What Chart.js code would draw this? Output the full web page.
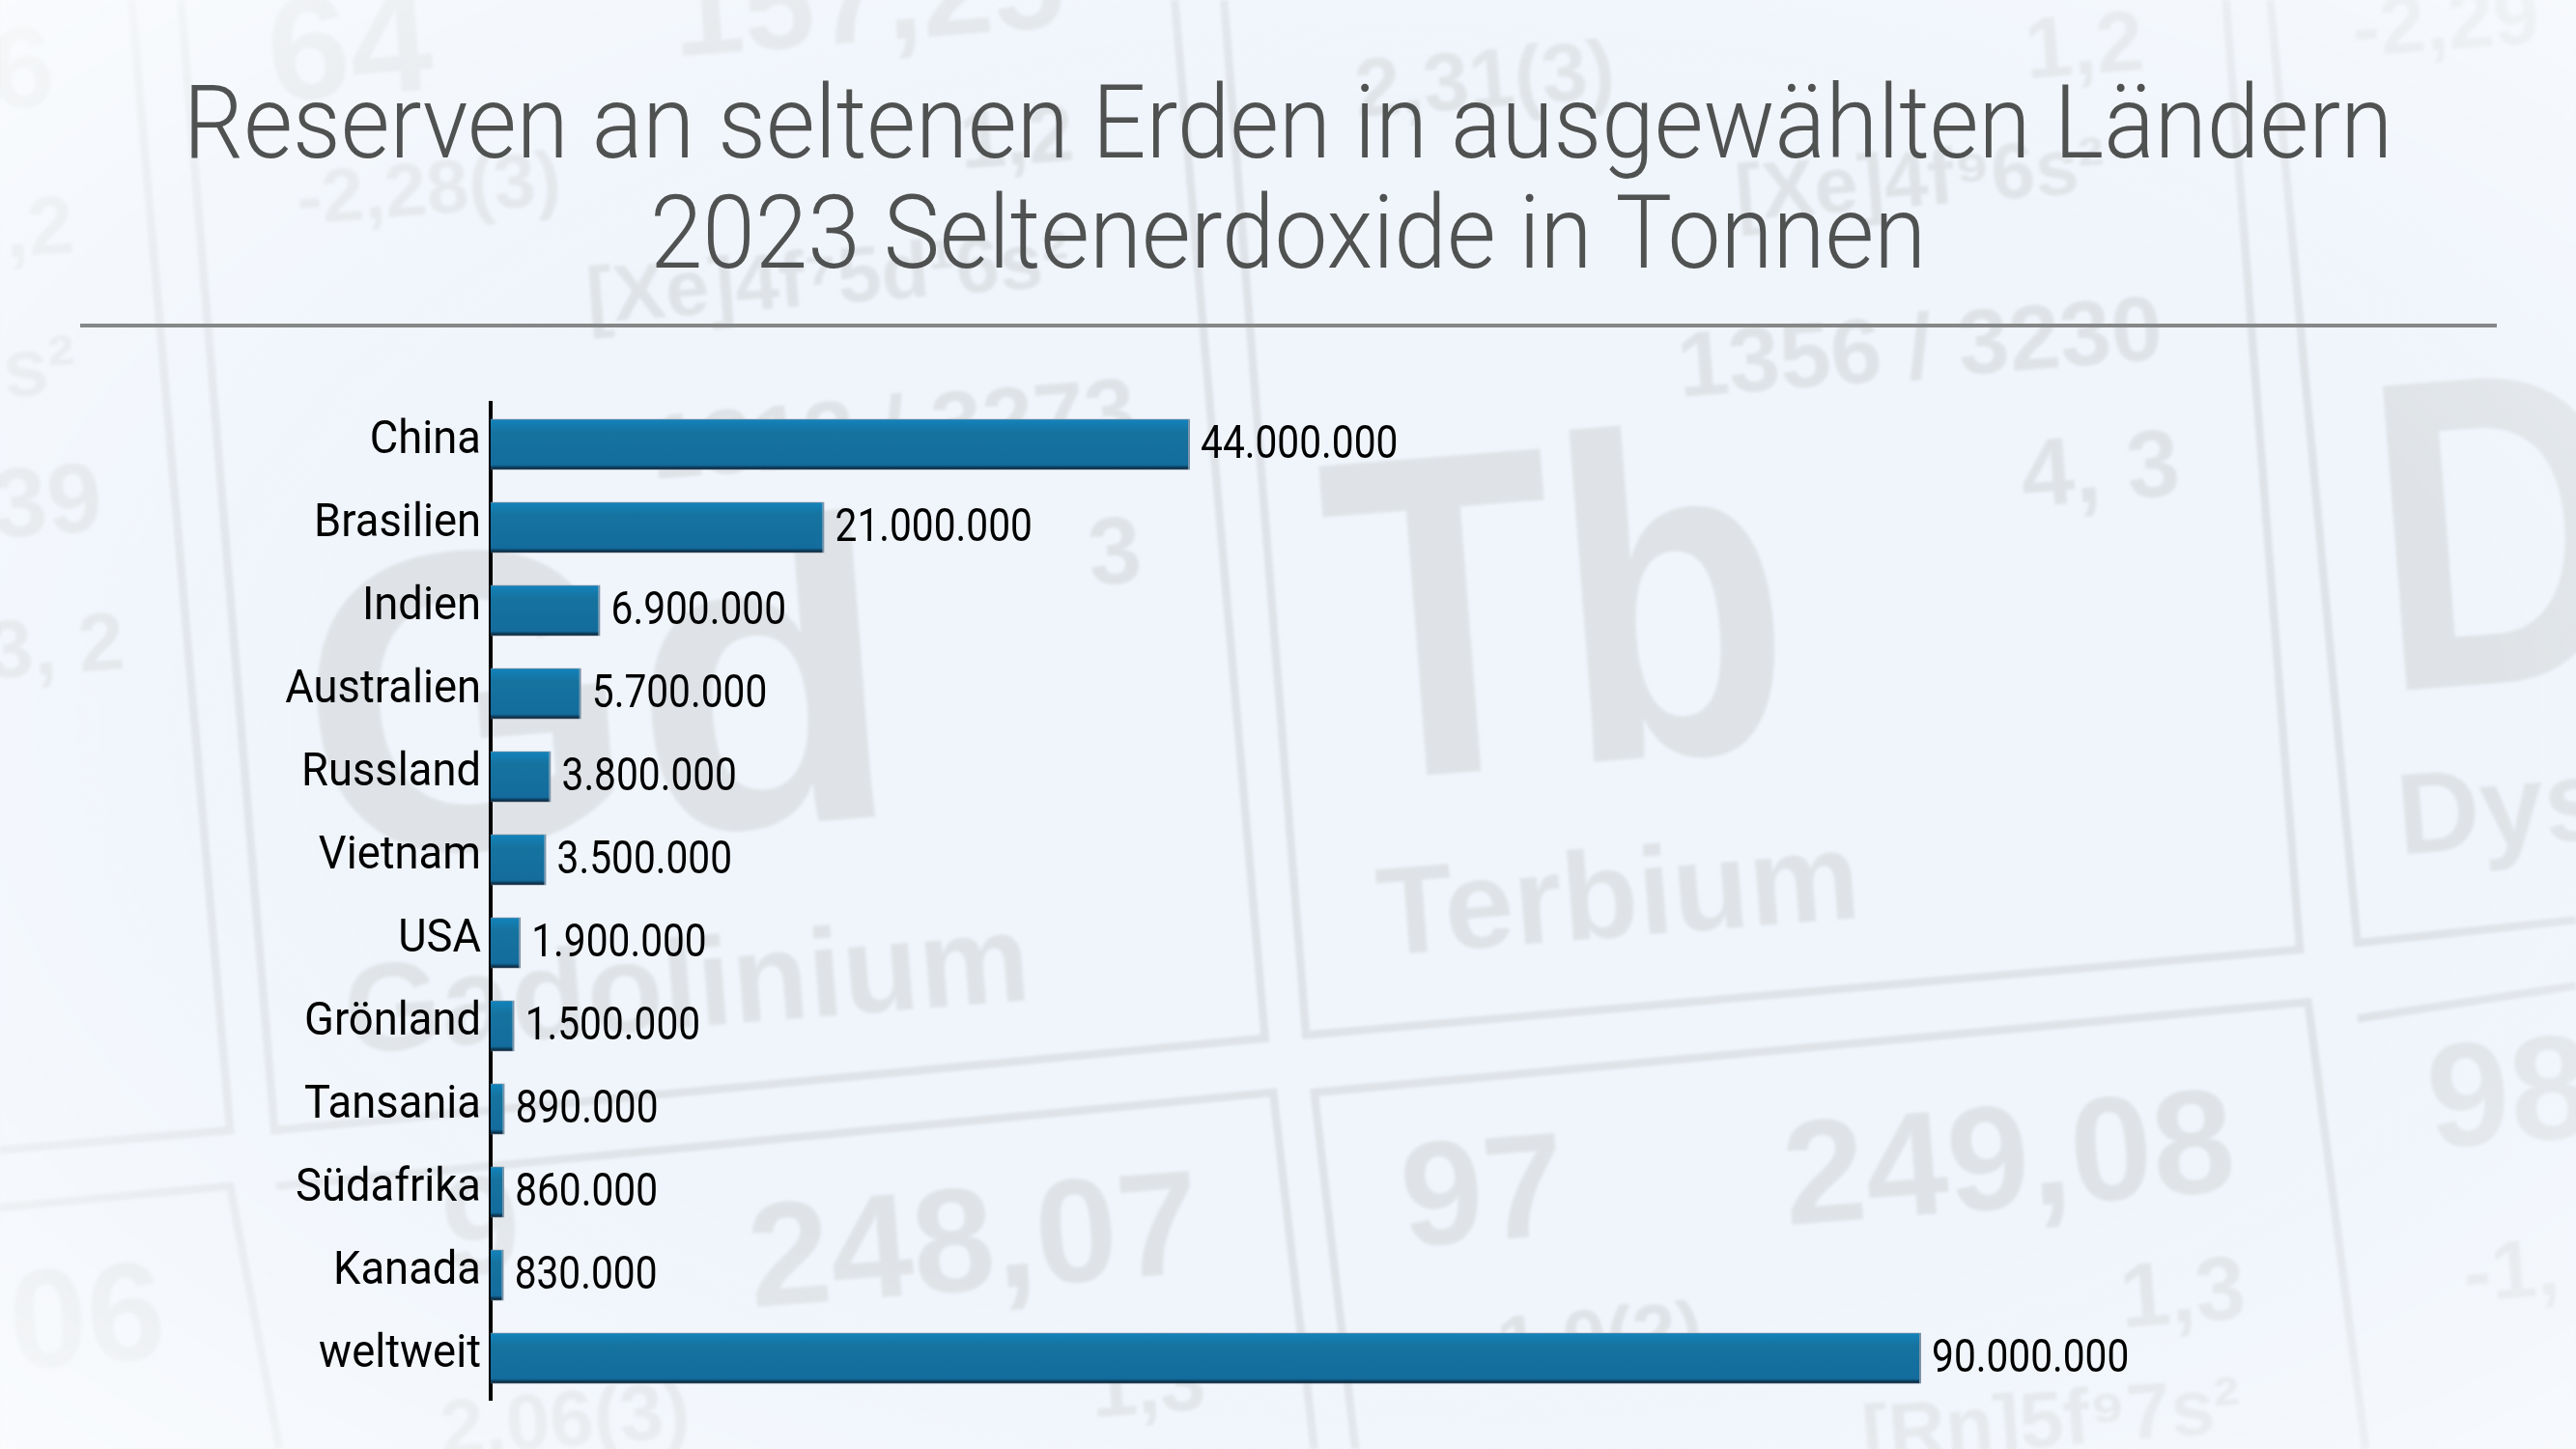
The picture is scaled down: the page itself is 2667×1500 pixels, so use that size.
<!DOCTYPE html>
<html>
<head>
<meta charset="utf-8">
<title>Reserven an seltenen Erden</title>
<script src="https://cdn.jsdelivr.net/npm/chart.js@4"></script>
<style>
html, body { margin: 0; padding: 0; background: #f0f5fc; }
#wrap { position: relative; width: 2667px; height: 1500px; overflow: hidden; }
#bg, #g { position: absolute; left: 0; top: 0; }
#bg text { font-family: "Liberation Sans", sans-serif; font-weight: bold; fill: #dfe3e7; }
#g { width: 2667px !important; height: 1500px !important; }
</style>
</head>
<body>
<div id="wrap">
<svg id="bg" width="2667" height="1500" viewBox="0 0 1568 882">
    <defs>
        <filter id="soft"><feGaussianBlur stdDeviation="1"></feGaussianBlur></filter>
        <radialGradient id="fade" cx="0.55" cy="0.5" r="0.75">
            <stop offset="0.55" stop-color="#f6f9fc" stop-opacity="0"></stop>
            <stop offset="1" stop-color="#fbfcfd" stop-opacity="0.85"></stop>
        </radialGradient>
    </defs>
    <g filter="url(#soft)" id="cells" stroke="#dfe3e8" stroke-width="5" fill="none">
        <path d="M745 0L795 630L1400 578L1355 0"></path>
        <path d="M1382 0L1435 574L1568 560"></path>
        <path d="M110 0L167 688L770 632L715 0"></path>
        <path d="M80 0L140 688L0 700"></path>
        <path d="M0 735L140 722L170 882"></path>
        <path d="M168 722L775 665L800 882"></path>
        <path d="M825 882L800 665L1405 610L1440 882"></path>
        <path d="M1435 620L1568 600"></path>
    </g>
    <g filter="url(#soft)" id="words"></g>
    <rect width="1568" height="882" fill="url(#fade)"></rect>
</svg>
<canvas id="g" width="2667" height="1500"></canvas>
</div>
<script>
// data
const _labels = ['China', 'Brasilien', 'Indien', 'Australien', 'Russland', 'Vietnam', 'USA', 'Grönland', 'Tansania', 'Südafrika', 'Kanada', 'weltweit'];
const _data = [44000000, 21000000, 6900000, 5700000, 3800000, 3500000, 1900000, 1500000, 890000, 860000, 830000, 90000000];
const _title = ['Reserven an seltenen Erden in ausgewählten Ländern', '2023 Seltenerdoxide in Tonnen'];

const _font = 'Roboto, sans-serif';

// background, faint periodic table
const _words = [
    ['64', 215, 58, 90], ['157,25', 530, 25, 78], ['1,2', 1270, 45, 52], ['2,31(3)', 905, 65, 50],
    ['-2,29', 1490, 30, 50], ['6', 15, 65, 70], [',2', 25, 155, 50], ['-2,28(3)', 262, 130, 46],
    ['1,2', 620, 100, 50], ['[Xe]4f⁷5d¹6s²', 505, 185, 48], ['[Xe]4f⁹6s²', 1170, 125, 48], ['s²', 25, 240, 50],
    ['1356 / 3230', 1170, 230, 56], ['1313 / 3273', 545, 280, 56], ['39', 30, 325, 60], ['4, 3', 1280, 305, 58],
    ['3', 680, 355, 58], ['3, 2', 35, 410, 50], ['Gd', 370, 510, 260], ['Tb', 955, 465, 280, 0.82],
    ['D', 1530, 415, 270, 0.82], ['Dys', 1525, 515, 70], ['Terbium', 987, 570, 76], ['Gadolinium', 420, 625, 76],
    ['97', 905, 755, 90], ['249,08', 1225, 735, 90], ['248,07', 595, 785, 90], ['98', 1530, 695, 90],
    ['06', 55, 830, 85], ['9', 295, 775, 85], ['1,3', 1330, 805, 55], ['-1,', 1530, 790, 50],
    ['1,3', 700, 860, 50], ['2,06(3)', 345, 880, 48], ['1,0(2)', 975, 830, 48], ['[Rn]5f⁹7s²', 1250, 880, 48]
];
const _g = document.getElementById('words');
_words.forEach(function (w) {
    const t = document.createElementNS('http://www.w3.org/2000/svg', 'text');
    t.textContent = w[0];
    t.setAttribute('text-anchor', 'middle');
    t.setAttribute('font-size', w[3]);
    t.setAttribute('transform', 'translate(' + w[1] + ' ' + w[2] + ') rotate(-4.5) scale(' + (w[4] || 1) + ' 1)');
    _g.appendChild(t);
});

// no condensed font here, so squeeze the text instead
const _c = document.getElementById('g').getContext('2d');
const _fill = _c.fillText;
let _squeeze = 0.925;
_c.fillText = function (t, x, y) {
    const k = this.font.indexOf('105px') >= 0 ? 0.935 : _squeeze;
    this.save();
    this.translate(x, y);
    this.scale(k, 1);
    _fill.call(this, t, 0, 0);
    this.restore();
};

function _bar_color (ctx) {
    const c = ctx.chart;
    if (!c.chartArea) return '#17719f';
    const y = c.scales.y.getPixelForValue(ctx.dataIndex);
    const h = c.scales.y.getPixelForValue(1) - c.scales.y.getPixelForValue(0);
    const half = h * 0.616 / 2;
    const g = c.ctx.createLinearGradient(0, y - half, 0, y + half);
    g.addColorStop(0, '#8b93a0');
    g.addColorStop(0.03, '#1282ba');
    g.addColorStop(0.25, '#16739f');
    g.addColorStop(0.9, '#136c9d');
    g.addColorStop(0.97, '#0a2a42');
    g.addColorStop(1, '#5d6a76');
    return g;
}

// value labels and the rule under the title
const _extras = {
    id: 'extras',
    afterDatasetsDraw (c) {
        const ctx = c.ctx;
        ctx.save();
        _squeeze = 0.83;
        ctx.fillStyle = '#000';
        ctx.font = '49px ' + _font;
        ctx.textBaseline = 'middle';
        c.getDatasetMeta(0).data.forEach(function (bar, i) {
            ctx.fillText(_data[i].toLocaleString('de-DE'), bar.x + 11, bar.y + 2);
        });
        _squeeze = 0.925;
        ctx.fillStyle = '#868888';
        ctx.fillRect(83, 335, 2502, 4);
        ctx.restore();
    }
};

new Chart(_c, {
    type: 'bar',
    data: {
        labels: _labels,
        datasets: [{
            data: _data,
            backgroundColor: _bar_color,
            borderColor: '#7c93a6',
            borderWidth: { right: 2 },
            borderSkipped: false,
            barPercentage: 0.616,
            categoryPercentage: 1
        }]
    },
    options: {
        indexAxis: 'y',
        responsive: false,
        animation: false,
        devicePixelRatio: 1,
        layout: { padding: { top: 0, bottom: 51, right: 0, left: 0 } },
        plugins: {
            legend: { display: false },
            tooltip: { enabled: false },
            title: {
                display: true,
                text: _title,
                color: '#505151',
                font: { family: _font, size: 105, weight: 300, lineHeight: 1.086 },
                padding: { top: 80, bottom: 109 }
            }
        },
        scales: {
            x: {
                display: false,
                min: 0,
                max: 131200000,
                grid: { display: false }
            },
            y: {
                afterFit (s) { s.width = 508; },
                grid: { display: false, drawTicks: false },
                border: { display: true, color: '#000', width: 4 },
                ticks: {
                    color: '#000',
                    padding: 10,
                    labelOffset: -3,
                    font: { family: _font, size: 49 }
                }
            }
        }
    },
    plugins: [_extras]
});
</script>
</body>
</html>
